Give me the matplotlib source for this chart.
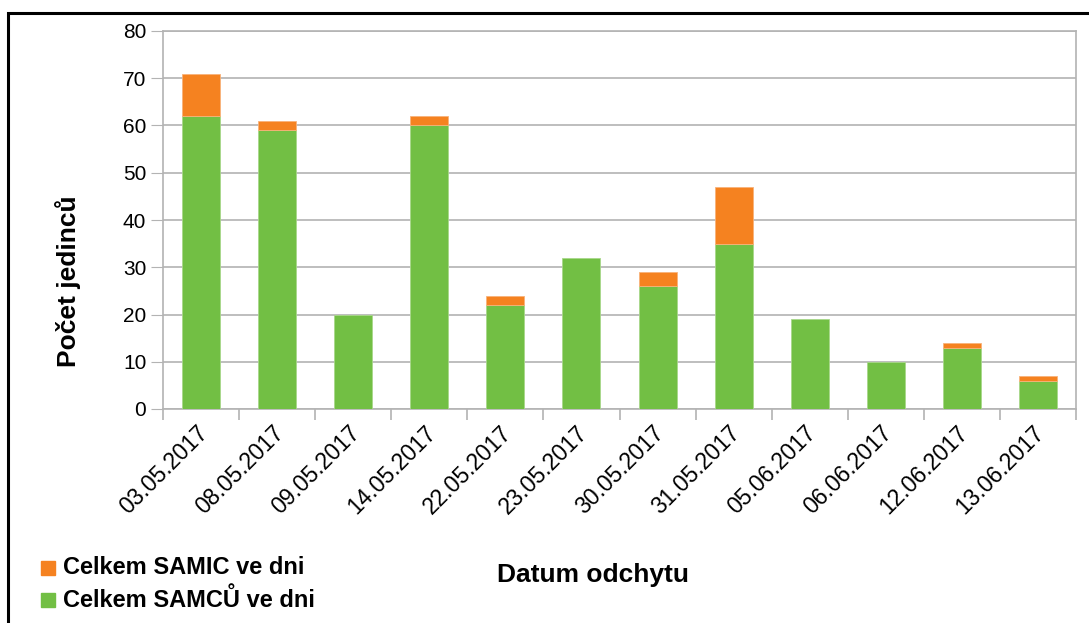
import numpy as np
import matplotlib.pyplot as plt
import matplotlib.transforms as mtransforms
from matplotlib.patches import Rectangle

plt.rcParams['font.family'] = ['Liberation Sans', 'DejaVu Sans']

dates = ['03.05.2017', '08.05.2017', '09.05.2017', '14.05.2017', '22.05.2017', '23.05.2017',
         '30.05.2017', '31.05.2017', '05.06.2017', '06.06.2017', '12.06.2017', '13.06.2017']
samci = [62, 59, 20, 60, 22, 32, 26, 35, 19, 10, 13, 6]
samice = [9, 2, 0, 2, 2, 0, 3, 12, 0, 0, 1, 1]

green = '#72bf44'
orange = '#f58220'
grid = '#b3b3b3'

W, H = 1089, 623
fig = plt.figure(figsize=(W / 100, H / 100), dpi=100)
ax = fig.add_axes([163 / W, 1 - 409 / H, (1076 - 163) / W, (409 - 31) / H])

x = np.arange(len(dates))
ax.bar(x, samci, width=0.5, color=green, edgecolor='#a8d88a', linewidth=0.6, zorder=3)
# no outline on empty female segments
lw_f = [0.6 if v > 0 else 0 for v in samice]
ax.bar(x, samice, width=0.5, bottom=samci, color=orange, edgecolor='#f8b27a', linewidth=lw_f, zorder=3)

ax.set_xlim(-0.5, len(dates) - 0.5)
ax.set_ylim(0, 80)
ax.set_yticks(range(0, 81, 10))
ax.tick_params(axis='y', length=9, color=grid, labelsize=15, pad=3)
ax.yaxis.grid(True, color=grid, linewidth=1.2, zorder=0)

# category boundary ticks below the axis, labels at bar centres
ax.set_xticks(np.arange(-0.5, len(dates), 1.0))
ax.set_xticklabels([])
ax.tick_params(axis='x', length=8, color=grid, width=1.2)
ax.set_xticks(x, minor=True)
ax.set_xticklabels(dates, minor=True, rotation=45, ha='right', rotation_mode='anchor', fontsize=16.5)
ax.tick_params(axis='x', which='minor', length=0, pad=9)
shift = mtransforms.ScaledTranslation(-5 / 100, 0, fig.dpi_scale_trans)
for lbl in ax.get_xticklabels(minor=True):
    lbl.set_transform(lbl.get_transform() + shift)

for s in ax.spines.values():
    s.set_color(grid)
    s.set_linewidth(1.2)

fig.text(68 / W, 1 - 281 / H, 'Počet jedinců', rotation=90, ha='center', va='center',
         fontsize=19, fontweight='bold')
fig.text(593 / W, 1 - 575 / H, 'Datum odchytu', ha='center', va='center',
         fontsize=19, fontweight='bold')

# legend entries in the lower left corner
for yy, col, lab in [(568, orange, 'Celkem SAMIC ve dni'), (600, green, 'Celkem SAMCŮ ve dni')]:
    fig.patches.append(Rectangle((41 / W, 1 - (yy + 7) / H), 14 / W, 14 / H,
                                 transform=fig.transFigure, color=col))
    fig.text(63 / W, 1 - yy / H, lab, ha='left', va='center', fontsize=17, fontweight='bold')

# outer frame
fig.patches.append(Rectangle((8 / W, -0.05), 1.1, 1 - 13 / H + 0.05, transform=fig.transFigure,
                             fill=False, edgecolor='black', linewidth=2.2))

fig.savefig('out.png', dpi=100)
